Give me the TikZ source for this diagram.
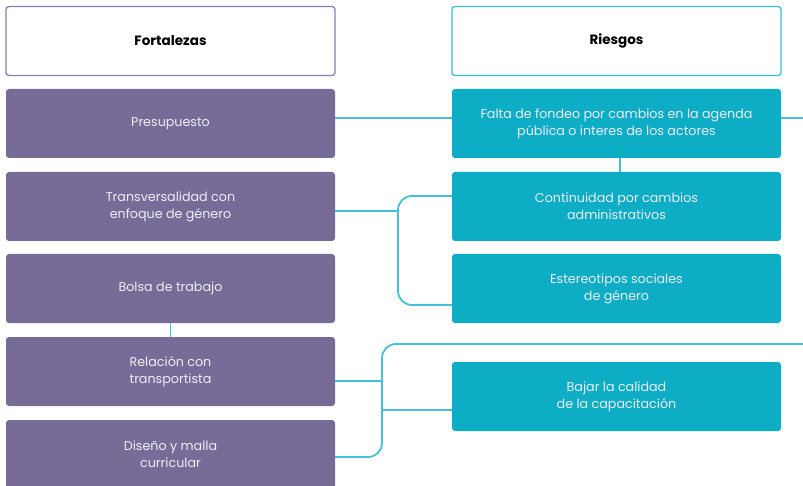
\documentclass[tikz,border=0pt]{standalone}
\usepackage{fontspec}
\setmainfont{Poppins}
\definecolor{purp}{HTML}{776C98}
\definecolor{purpline}{HTML}{8A80B0}
\definecolor{teal}{HTML}{0EADC6}
\definecolor{tealline}{HTML}{3BBDD2}
\definecolor{conncol}{HTML}{45C0D4}
\definecolor{boxtext}{HTML}{EEEEF6}
\begin{document}
\begin{tikzpicture}[x=1pt,y=-1pt,
  base/.style={rectangle, rounded corners=3pt, minimum width=329pt, minimum height=69pt, align=center, inner sep=0pt, font=\fontsize{12.7}{17}\selectfont},
  leftbox/.style={base, fill=purp, text=boxtext},
  rightbox/.style={base, fill=teal, text=boxtext},
  lefthead/.style={base, draw=purpline, line width=1.3pt, fill=white, font=\fontsize{13.5}{17}\selectfont\bfseries},
  righthead/.style={base, draw=tealline, line width=1.3pt, fill=white, font=\fontsize{13.5}{17}\selectfont\bfseries},
  conn/.style={draw=conncol, line width=1.8pt}]
\useasboundingbox (0,0) rectangle (803,486);
\clip (0,0) rectangle (803,486);
\node[lefthead] (fh) at (170.5,41) {Fortalezas};
\node[righthead] (rh) at (616.5,41) {Riesgos};
\node[leftbox] (pre) at (170.5,123.5) {Presupuesto};
\node[leftbox] (tra) at (170.5,206.5) {Transversalidad con\\enfoque de género};
\node[leftbox] (bol) at (170.5,288.5) {Bolsa de trabajo};
\node[leftbox] (rel) at (170.5,371.5) {Relación con\\transportista};
\node[leftbox] (dis) at (170.5,454.5) {Diseño y malla\\curricular};
\node[rightbox] (fal) at (616.5,123.5) {Falta de fondeo por cambios en la agenda\\pública o interes de los actores};
\node[rightbox] (con) at (616.5,206.5) {Continuidad por cambios\\administrativos};
\node[rightbox] (est) at (616.5,288.5) {Estereotipos sociales\\de género};
\node[rightbox] (baj) at (616.5,396.5) {Bajar la calidad\\de la capacitación};
\coordinate (out1) at (803,118);
\coordinate (out2) at (803,344);
% connectors
\draw[conn] (pre.east |- 0,118) -- (fal.west |- 0,118);
\draw[conn] (fal.east |- 0,118) -- (out1);
\draw[conn] (fal.south -| 620,0) -- (con.north -| 620,0);
\draw[conn] (tra.east |- 0,211) -- (398,211);
\draw[conn, rounded corners=14pt] (con.west |- 0,196) -- (398,196) -- (398,305) -- (est.west |- 0,305);
\draw[conn] (bol.south) -- (rel.north);
\draw[conn, rounded corners=14pt] (out2) -- (382,344) -- (382,457) -- (dis.east |- 0,457);
\draw[conn] (rel.east |- 0,381) -- (382,381);
\draw[conn] (382,410) -- (baj.west |- 0,410);
\end{tikzpicture}
\end{document}
